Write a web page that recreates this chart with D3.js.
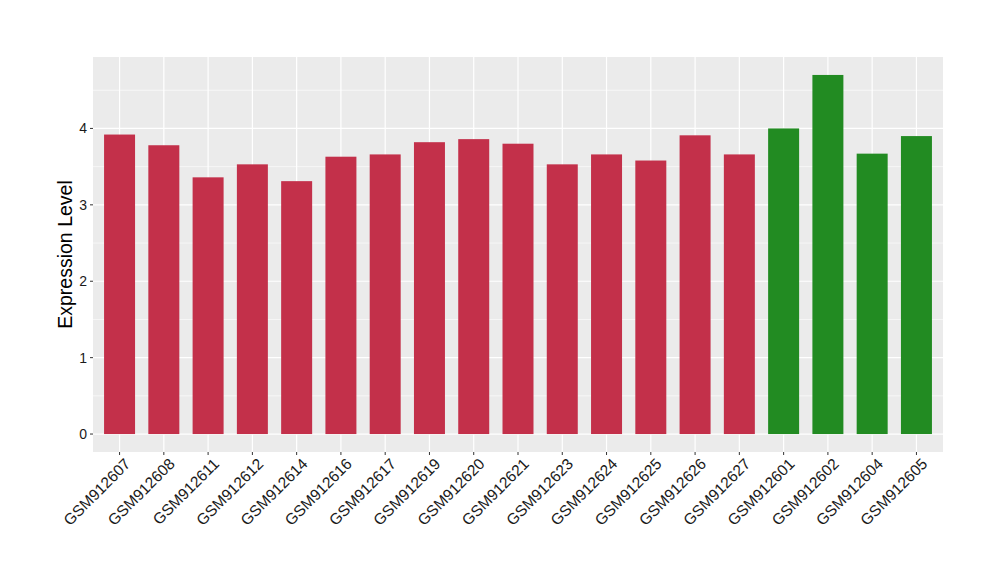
<!DOCTYPE html>
<html><head><meta charset="utf-8">
<script src="https://cdn.jsdelivr.net/npm/d3@7"></script>
<style>body{margin:0;background:#fff}svg{display:block}</style>
</head><body>
<svg id="c" width="1000" height="580"></svg>
<script>
const categories = ["GSM912607","GSM912608","GSM912611","GSM912612","GSM912614","GSM912616","GSM912617","GSM912619","GSM912620","GSM912621","GSM912623","GSM912624","GSM912625","GSM912626","GSM912627","GSM912601","GSM912602","GSM912604","GSM912605"];
const values = [3.92,3.78,3.36,3.53,3.31,3.63,3.66,3.82,3.86,3.80,3.53,3.66,3.58,3.91,3.66,4.00,4.70,3.67,3.90];
const groups = ["a","a","a","a","a","a","a","a","a","a","a","a","a","a","a","b","b","b","b"];
const yTicks = [0,1,2,3,4];
const colors = {a:"#C3304A", b:"#228B22"};

const svg = d3.select("#c");
const L=93, R=943, T=57, B=452;
const x = d3.scaleBand().domain(categories).range([L, R]).paddingInner(0.3).paddingOuter(0.25);
const cx = d => x(d) + x.bandwidth()/2;
const bw = x.bandwidth();
const ymax = d3.max(values);
const pad = ymax*0.05;
const y = d3.scaleLinear().domain([-pad, ymax+pad]).range([B, T]);
const FONT = "Liberation Sans, Arial, sans-serif";

svg.append("rect").attr("x",L).attr("y",T).attr("width",R-L).attr("height",B-T).attr("fill","#EBEBEB");
const g = svg.append("g");
const minor = d3.range(0.5, ymax+pad, 1);
g.selectAll(".mn").data(minor).join("line").attr("x1",L).attr("x2",R)
 .attr("y1",d=>y(d)).attr("y2",d=>y(d)).attr("stroke","#fff").attr("stroke-width",0.6);
g.selectAll(".mj").data(yTicks).join("line").attr("x1",L).attr("x2",R)
 .attr("y1",d=>y(d)).attr("y2",d=>y(d)).attr("stroke","#fff").attr("stroke-width",1.2);
g.selectAll(".vx").data(categories).join("line").attr("y1",T).attr("y2",B)
 .attr("x1",d=>cx(d)).attr("x2",d=>cx(d)).attr("stroke","#fff").attr("stroke-width",1.2);

svg.selectAll(".bar").data(categories).join("rect")
 .attr("x",d=>x(d)).attr("width",bw)
 .attr("y",(d,i)=>y(values[i])).attr("height",(d,i)=>y(0)-y(values[i]))
 .attr("fill",(d,i)=>colors[groups[i]]);

const ya = svg.append("g");
ya.selectAll("line").data(yTicks).join("line").attr("x1",L-3).attr("x2",L)
 .attr("y1",d=>y(d)).attr("y2",d=>y(d)).attr("stroke","#333").attr("stroke-width",1);
ya.selectAll("text").data(yTicks).join("text").attr("x",L-6).attr("y",d=>y(d))
 .attr("dy","0.36em").attr("text-anchor","end").attr("font-family",FONT)
 .attr("font-size",14).attr("fill","#1a1a1a").text(d=>d);

const xa = svg.append("g");
xa.selectAll("line").data(categories).join("line").attr("x1",d=>cx(d)).attr("x2",d=>cx(d))
 .attr("y1",B).attr("y2",B+3).attr("stroke","#333").attr("stroke-width",1);
xa.selectAll("text").data(categories).join("text")
 .attr("transform",d=>`translate(${cx(d)+4},${B+5}) rotate(-45)`)
 .attr("text-anchor","end").attr("dy","0.72em").attr("font-family",FONT)
 .attr("font-size",15.5).attr("fill","#1a1a1a").text(d=>d);

svg.append("text").attr("transform",`translate(72,${(T+B)/2}) rotate(-90)`)
 .attr("text-anchor","middle").attr("font-family",FONT)
 .attr("font-size",19.5).attr("fill","#000").text("Expression Level");
</script>
</body></html>
